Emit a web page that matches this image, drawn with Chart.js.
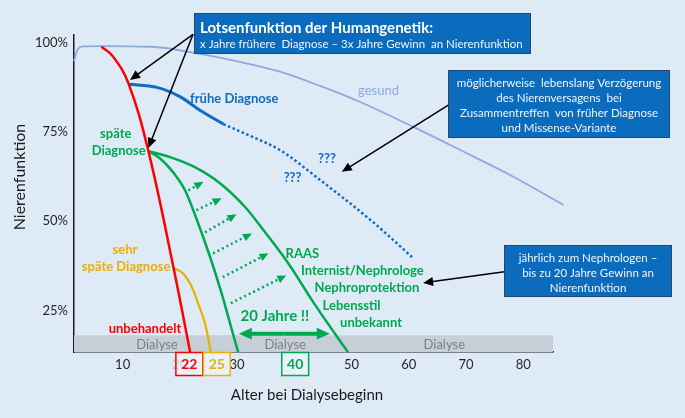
<!DOCTYPE html>
<html>
<head>
<meta charset="utf-8">
<script src="https://cdn.jsdelivr.net/npm/chart.js@4.4.0/dist/chart.umd.min.js"></script>
<style>
  html, body { margin: 0; padding: 0; background: #deebf7; }
</style>
</head>
<body>
<canvas id="chart" width="685" height="418"></canvas>
<script>
const gesund = [[1.5,95],[2.2,98.4],[3.2,99.1],[6,99.2],[15,99],[23.5,97],[32,94.2],[37.5,92],[44.5,88],[51.5,83.5],[60.8,76.5],[69,70],[77.7,63],[87,54.6]];
const unbehandelt = [[6.3,99],[8.3,96.3],[11,88.8],[14.5,69.7],[18.9,36.9],[21.8,13.2]];
const fruehDiagnose = [[11,88.5],[16,87.6],[20,85],[23.5,81.2],[27.6,77.3]];
const fruehOffen = [[27.6,77.3],[33.1,73.4],[37.5,70],[44.5,61.6],[53.8,49.7],[60.8,39.6]];
const spaetOhne = [[14.5,69.7],[16.5,67.7],[18.8,63.8],[20.9,58.7],[23,50.3],[25.3,39.9],[27.4,29.2],[29.1,19.4],[30.2,13.2]];
const spaetMit = [[14.5,69.7],[18.3,68],[22.6,65.2],[27,60.7],[31.4,54],[34.9,46.9],[39.2,37.6],[43.1,27.8],[46.2,20.5],[49.4,13.2]];
const sehrSpaet = [[18.9,36.9],[20.6,35.3],[22.1,31.5],[23.2,26.9],[24.4,21.3],[25.4,13.2]];

const xTicks = [10, 20, 30, 40, 50, 60, 70, 80];
const yTicks = [25, 50, 75, 100];
const dialyseBis = 18; // Dialyse-Band bis 18 %

const RED = '#ff0000', GREEN = '#00a84f', BLUE = '#0f6cc0', GOLD = '#e9b000', LIGHT = '#8eaadb';

const pts = arr => arr.map(([x, y]) => ({ x, y }));

// Pfeile und Beschriftungen in Datenkoordinaten
const therapiePfeile = [
    [21.5,58.7, 24.1,61.1], [22.9,53.1, 27.3,56.5], [24.4,46.9, 29.9,52.0],
    [25.8,41.0, 32.6,46.6], [27.5,34.3, 35.5,41.0], [28.9,27.0, 38.6,34.8]
];
const texte = [
    ['frühe Diagnose', 29.5, 84.5, 'bold 13px Lato', BLUE],
    ['gesund', 54.7, 86.7, '13px Lato', LIGHT],
    ['späte', 8.8, 74.5, 'bold 13px Lato', GREEN],
    ['Diagnose', 9.3, 69.7, 'bold 13px Lato', GREEN],
    ['sehr', 10.4, 41.9, 'bold 13px Lato', GOLD],
    ['späte Diagnose', 10.6, 37.2, 'bold 13px Lato', GOLD],
    ['unbehandelt', 13.9, 19.9, 'bold 13px Lato', RED],
    ['???', 45.7, 67.4, 'bold 13px Lato', BLUE],
    ['???', 39.7, 62.2, 'bold 13px Lato', BLUE],
    ['RAAS', 41.4, 40.9, 'bold 13px Lato', GREEN],
    ['Internist/Nephrologe', 51.9, 36.0, 'bold 13px Lato', GREEN],
    ['Nephroprotektion', 52.7, 31.3, 'bold 13px Lato', GREEN],
    ['Lebensstil', 50.0, 26.4, 'bold 13px Lato', GREEN],
    ['unbekannt', 53.4, 21.4, 'bold 13px Lato', GREEN],
    ['20 Jahre !!', 36.6, 23.3, 'bold 15px Lato', GREEN]
];

function text(ctx, s, x, y, font, color, align) {
    ctx.font = font;
    ctx.fillStyle = color;
    ctx.textAlign = align || 'center';
    ctx.textBaseline = 'middle';
    ctx.fillText(s, x, y);
}

function arrow(ctx, x1, y1, x2, y2, color, width, head, dash) {
    const a = Math.atan2(y2 - y1, x2 - x1);
    const c = Math.cos(a), s = Math.sin(a);
    ctx.save();
    ctx.strokeStyle = color;
    ctx.fillStyle = color;
    ctx.lineWidth = width;
    ctx.setLineDash(dash || []);
    ctx.beginPath();
    ctx.moveTo(x1, y1);
    ctx.lineTo(x2 - head * 0.8 * c, y2 - head * 0.8 * s);
    ctx.stroke();
    ctx.setLineDash([]);
    const w = head * 0.45;
    ctx.beginPath();
    ctx.moveTo(x2, y2);
    ctx.lineTo(x2 - head * c + w * s, y2 - head * s - w * c);
    ctx.lineTo(x2 - head * c - w * s, y2 - head * s + w * c);
    ctx.closePath();
    ctx.fill();
    ctx.restore();
}

function box(ctx, x, y, w, h) {
    ctx.save();
    ctx.fillStyle = '#0b6cbd';
    ctx.fillRect(x, y, w, h);
    ctx.strokeStyle = '#24466e';
    ctx.lineWidth = 1;
    ctx.strokeRect(x + 0.5, y + 0.5, w - 1, h - 1);
    ctx.restore();
}

const annotations = {
    id: 'annotations',
    beforeDraw(chart) {
        const ctx = chart.ctx;
        ctx.save();
        ctx.fillStyle = '#deebf7';
        ctx.fillRect(0, 0, chart.width, chart.height);
        ctx.restore();
    },
    beforeDatasetsDraw(chart) {
        const { ctx, chartArea: ca, scales: { x, y } } = chart;
        const top = y.getPixelForValue(dialyseBis);
        ctx.save();
        ctx.fillStyle = '#c6ced8';
        ctx.fillRect(ca.left, top, ca.right - ca.left, ca.bottom - top);
        const my = (top + ca.bottom) / 2;
        [16, 38.4, 66.2].forEach(v => text(ctx, 'Dialyse', x.getPixelForValue(v), my + 1, '13px Lato', '#7f7f7f'));
        ctx.restore();
    },
    afterDatasetsDraw(chart) {
        const { ctx, chartArea: ca, scales: { x, y } } = chart;
        const X = v => x.getPixelForValue(v), Y = v => y.getPixelForValue(v);
        ctx.save();

        therapiePfeile.forEach(([a, b, c, d]) => arrow(ctx, X(a), Y(b), X(c), Y(d), GREEN, 2.5, 9, [2, 3]));

        // 20 Jahre Doppelpfeil
        const ym = Y(18.45), xm = (X(30.3) + X(46.2)) / 2;
        arrow(ctx, xm, ym, X(30.3), ym, GREEN, 4, 13);
        arrow(ctx, xm, ym, X(46.2), ym, GREEN, 4, 13);

        texte.forEach(([s, a, b, f, c]) => text(ctx, s, X(a), Y(b), f, c));

        // Kästen
        box(ctx, 194, 13, 337, 41);
        text(ctx, 'Lotsenfunktion der Humangenetik:', 200, 28, 'bold 15px Lato', '#ffffff', 'left');
        text(ctx, 'x Jahre frühere  Diagnose – 3x Jahre Gewinn  an Nierenfunktion', 200, 44.5, '11.5px Lato', '#f0f4fa', 'left');
        arrow(ctx, X(22.3), Y(102.5), X(11.3), Y(89.7), '#000', 1.5, 10);
        arrow(ctx, X(22.3), Y(102.5), X(14.5), Y(70.6), '#000', 1.5, 10);

        box(ctx, 448, 70, 222, 68);
        ['möglicherweise  lebenslang Verzögerung', 'des Nierenversagens  bei',
         'Zusammentreffen  von früher Diagnose', 'und Missense-Variante']
            .forEach((s, i) => text(ctx, s, 559, 83.5 + i * 15, '11.5px Lato', '#f0f4fa'));
        arrow(ctx, X(66.9), Y(82.6), X(48.3), Y(63.9), '#000', 1.5, 10);

        box(ctx, 504, 245, 168, 52);
        ['jährlich zum Nephrologen –', 'bis zu 20 Jahre Gewinn an', 'Nierenfunktion']
            .forEach((s, i) => text(ctx, s, 588, 258.5 + i * 15, '11.5px Lato', '#f0f4fa'));
        arrow(ctx, X(76.7), Y(35.8), X(62.5), Y(32.7), '#000', 1.5, 10);
        ctx.restore();
    },
    afterDraw(chart) {
        const { ctx, chartArea: ca, scales: { x } } = chart;
        const X = v => x.getPixelForValue(v);
        ctx.save();
        // Alter bei Dialysebeginn
        [[19.3, 24.0, RED, '22'], [24.1, 28.8, GOLD, '25'], [37.8, 42.5, GREEN, '40']].forEach(([a, b, c, s]) => {
            const l = X(a), r = X(b);
            ctx.fillStyle = 'rgba(255,255,255,0.35)';
            ctx.fillRect(l, ca.bottom, r - l, 23);
            ctx.strokeStyle = c;
            ctx.lineWidth = 1.5;
            ctx.strokeRect(l, ca.bottom + 0.5, r - l, 23);
            text(ctx, s, (l + r) / 2, ca.bottom + 12.5, 'bold 14px Lato', c);
        });
        text(ctx, 'Alter bei Dialysebeginn', 307, 395, '15px Lato', '#1a1a1a');
        ctx.translate(20, 177);
        ctx.rotate(-Math.PI / 2);
        text(ctx, 'Nierenfunktion', 0, 0, '16px Lato', '#1a1a1a');
        ctx.restore();
    }
};

const tickColor = c => {
    if (!c.tick) return '#262626';
    if (c.tick.value === 20) return '#b5b5b5';
    if (c.tick.value === 40) return 'rgba(0,0,0,0)';
    return '#262626';
};

const chartCtx = document.getElementById('chart').getContext('2d');
const chart = new Chart(chartCtx, {
    type: 'line',
    data: {
        datasets: [
            { label: 'unbehandelt', data: pts(unbehandelt), borderColor: RED, borderWidth: 2.5, cubicInterpolationMode: 'default', tension: 0.4 },
            { label: 'sehr späte Diagnose', data: pts(sehrSpaet), borderColor: GOLD, borderWidth: 2.2, cubicInterpolationMode: 'default', tension: 0.4 },
            { label: 'späte Diagnose', data: pts(spaetOhne), borderColor: GREEN, borderWidth: 2.5 },
            { label: 'späte Diagnose + Therapie', data: pts(spaetMit), borderColor: GREEN, borderWidth: 2.5 },
            { label: 'frühe Diagnose', data: pts(fruehDiagnose), borderColor: BLUE, borderWidth: 3 },
            { label: 'frühe Diagnose ???', data: pts(fruehOffen), borderColor: BLUE, borderWidth: 2.5, borderDash: [2.5, 2.5] },
            { label: 'gesund', data: pts(gesund), borderColor: LIGHT, borderWidth: 1.8, clip: false }
        ]
    },
    options: {
        responsive: false,
        animation: false,
        layout: { padding: { top: 35, right: 132, left: 0, bottom: 0 } },
        elements: {
            point: { radius: 0 },
            line: { cubicInterpolationMode: 'monotone', fill: false }
        },
        plugins: { legend: { display: false }, tooltip: { enabled: false } },
        scales: {
            x: {
                type: 'linear',
                min: 1.5,
                max: 85.2,
                afterFit: s => { s.height = 66; },
                afterBuildTicks: s => { s.ticks = xTicks.map(v => ({ value: v })); },
                grid: { display: true, drawOnChartArea: false, drawTicks: false },
                border: { color: '#1a1a1a', width: 1.5 },
                ticks: {
                    padding: 5,
                    autoSkip: false,
                    maxRotation: 0,
                    font: { family: 'Lato', size: 13 },
                    color: tickColor
                }
            },
            y: {
                min: 13.3,
                max: 102.3,
                afterFit: s => { s.width = 74; },
                afterBuildTicks: s => { s.ticks = yTicks.map(v => ({ value: v })); },
                grid: { display: true, drawOnChartArea: false, drawTicks: false },
                border: { color: '#1a1a1a', width: 1.5 },
                ticks: {
                    padding: 6,
                    font: { family: 'Lato', size: 13 },
                    color: '#262626',
                    callback: v => v + '%'
                }
            }
        }
    },
    plugins: [annotations]
});
</script>
</body>
</html>
